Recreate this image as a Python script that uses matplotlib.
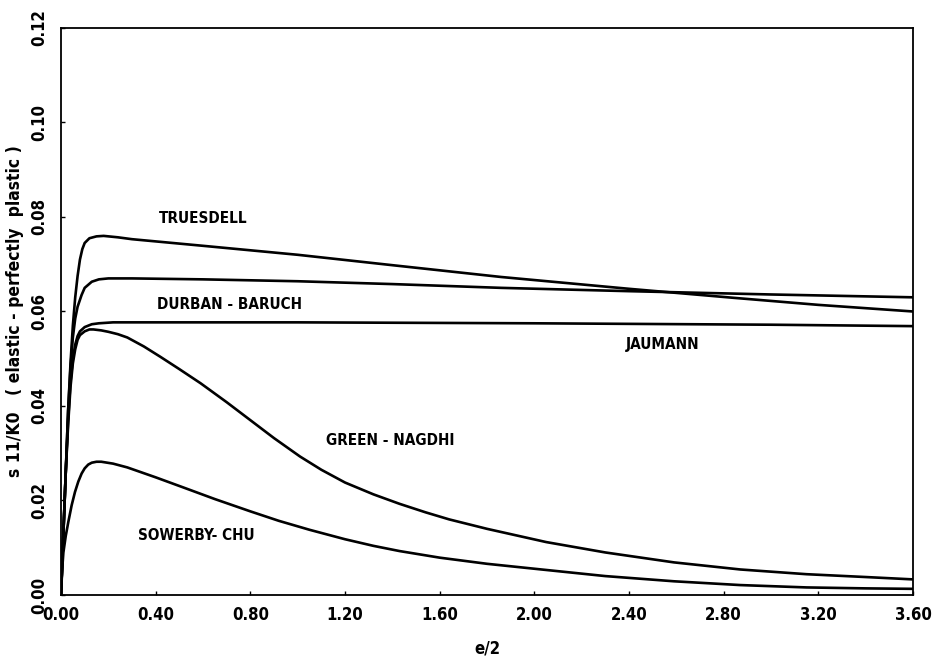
import matplotlib
matplotlib.use("Agg")
import matplotlib.pyplot as plt

# ---- data ----
x_truesdell = [0.0, 0.01, 0.02, 0.03, 0.04, 0.05, 0.06, 0.07, 0.08, 0.09, 0.10, 0.12, 0.15, 0.18, 0.24, 0.30,
               0.60, 1.00, 1.40, 1.86, 2.40, 2.84, 3.20, 3.60]
y_truesdell = [0.0, 0.013, 0.026, 0.039, 0.049, 0.057, 0.063, 0.0675, 0.0710, 0.0732, 0.0745, 0.0755, 0.0759, 0.0760, 0.0757, 0.0753,
               0.0739, 0.0720, 0.0698, 0.0673, 0.0648, 0.0629, 0.0614, 0.0600]

x_durban = [0.0, 0.01, 0.02, 0.03, 0.04, 0.05, 0.06, 0.07, 0.087, 0.10, 0.13, 0.16, 0.20, 0.30,
            0.60, 1.00, 1.40, 1.86, 2.40, 3.00, 3.60]
y_durban = [0.0, 0.013, 0.026, 0.039, 0.048, 0.0545, 0.0585, 0.0610, 0.0635, 0.0650, 0.0663, 0.0668, 0.0670, 0.0670,
            0.0668, 0.0664, 0.0658, 0.0650, 0.0643, 0.0636, 0.0630]

x_jaumann = [0.0, 0.01, 0.02, 0.03, 0.04, 0.05, 0.06, 0.07, 0.08, 0.10, 0.13, 0.16, 0.22, 0.30, 1.00, 2.00, 3.00, 3.60]
y_jaumann = [0.0, 0.013, 0.026, 0.037, 0.045, 0.050, 0.0530, 0.0548, 0.0558, 0.0567, 0.0573, 0.0575, 0.0577, 0.0577,
             0.0577, 0.0575, 0.0572, 0.0569]

x_green = [0.0, 0.01, 0.02, 0.03, 0.04, 0.05, 0.06, 0.07, 0.08, 0.10, 0.12, 0.137, 0.17, 0.20, 0.24, 0.28,
           0.35, 0.42, 0.50, 0.59, 0.70, 0.80, 0.90, 1.01, 1.10, 1.20, 1.32, 1.43, 1.54, 1.64, 1.80,
           2.05, 2.30, 2.59, 2.87, 3.15, 3.40, 3.60]
y_green = [0.0, 0.013, 0.026, 0.036, 0.044, 0.049, 0.052, 0.0540, 0.0550, 0.0558, 0.0562, 0.0562, 0.0560, 0.0557, 0.0552, 0.0545,
           0.0526, 0.0504, 0.0478, 0.0448, 0.0408, 0.0370, 0.0332, 0.0293, 0.0265, 0.0238, 0.0213, 0.0193, 0.0175, 0.0160, 0.0140,
           0.0112, 0.0090, 0.0069, 0.0054, 0.0044, 0.0038, 0.0033]

x_sowerby = [0.0, 0.005, 0.01, 0.02, 0.031, 0.045, 0.059, 0.073, 0.087, 0.10, 0.115, 0.13, 0.15, 0.17, 0.22, 0.28,
             0.40, 0.52, 0.65, 0.80, 0.92, 1.05, 1.20, 1.32, 1.43, 1.60, 1.80, 2.03, 2.30, 2.59, 2.87, 3.15, 3.40, 3.60]
y_sowerby = [0.0, 0.0055, 0.0090, 0.0125, 0.0155, 0.0190, 0.0218, 0.0240, 0.0257, 0.0268, 0.0276, 0.0280, 0.0282, 0.0282, 0.0278, 0.0270,
             0.0249, 0.0227, 0.0203, 0.0177, 0.0157, 0.0138, 0.0118, 0.0104, 0.0093, 0.0079, 0.0066, 0.0054, 0.0040, 0.0029, 0.0021,
             0.0016, 0.0014, 0.0013]

x_ticks = [0.00, 0.40, 0.80, 1.20, 1.60, 2.00, 2.40, 2.80, 3.20, 3.60]
y_ticks = [0.00, 0.02, 0.04, 0.06, 0.08, 0.10, 0.12]

curve_labels = ["TRUESDELL", "DURBAN - BARUCH", "JAUMANN", "GREEN - NAGDHI", "SOWERBY- CHU"]
label_x = [0.60, 0.71, 2.54, 1.39, 0.57]
label_y = [0.0797, 0.0615, 0.0531, 0.0327, 0.0126]

plt.rcParams["font.family"] = ["DejaVu Sans"]
plt.rcParams["font.stretch"] = "condensed"

fig = plt.figure(figsize=(9.33, 6.6), dpi=100)
ax = fig.add_axes([0.0654, 0.0985, 0.9132, 0.8591])

series = [(x_truesdell, y_truesdell), (x_durban, y_durban), (x_jaumann, y_jaumann),
          (x_green, y_green), (x_sowerby, y_sowerby)]
for xs, ys in series:
    ax.plot(xs, ys, color="black", lw=1.9, solid_joinstyle="round", solid_capstyle="round")

tfont = dict(family="DejaVu Sans", stretch="condensed", weight="bold")

for txt, lx, ly in zip(curve_labels, label_x, label_y):
    ax.text(lx, ly, txt, ha="center", va="center", fontsize=11, color="black", **tfont)

ax.set_xlim(0, 3.6)
ax.set_ylim(0, 0.12)
ax.set_xticks(x_ticks)
ax.set_xticklabels([f"{v:.2f}" for v in x_ticks], fontsize=12, **tfont)
ax.set_yticks(y_ticks)
ax.set_yticklabels([f"{v:.2f}" for v in y_ticks], fontsize=12, rotation=90, va="center", **tfont)
ax.tick_params(direction="in", length=3, width=1)
ax.tick_params(axis="x", pad=8)
ax.tick_params(axis="y", pad=9)
for sp in ax.spines.values():
    sp.set_linewidth(1.3)

ax.set_xlabel("e/2", fontsize=12, labelpad=11, **tfont)
ax.set_ylabel("s 11/K0   ( elastic - perfectly  plastic )", fontsize=12.5, **tfont)
ax.yaxis.set_label_coords(-0.043, 0.5)

fig.savefig("out.png", dpi=100)
